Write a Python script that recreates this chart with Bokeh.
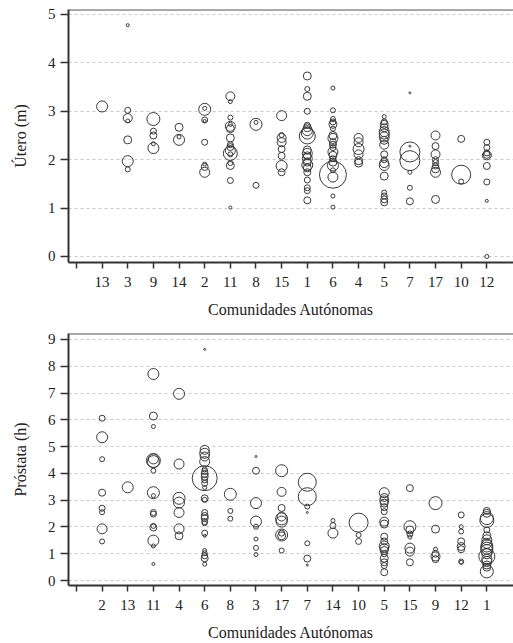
from bokeh.plotting import figure
from bokeh.models import FixedTicker, Span, ColumnDataSource
from bokeh.layouts import column
from bokeh.embed import file_html
from bokeh.resources import INLINE
import math

# ---------------- Data ----------------
orden_utero = ['13', '3', '9', '14', '2', '11', '8', '15', '1', '6', '4', '5', '7', '17', '10', '12']
orden_prostata = ['2', '13', '11', '4', '6', '8', '3', '17', '7', '14', '10', '5', '15', '9', '12', '1']

ccaa_utero = (['13'] + ['3'] * 7 + ['9'] * 5 + ['14'] * 3 + ['2'] * 8 + ['11'] * 16 + ['8'] * 3 + ['15'] * 8
              + ['1'] * 21 + ['6'] * 21 + ['4'] * 6 + ['5'] * 18 + ['7'] * 7 + ['17'] * 9 + ['10'] * 3 + ['12'] * 9)
utero = [3.10,
         4.78, 3.02, 2.86, 2.80, 2.41, 1.97, 1.80,
         2.84, 2.59, 2.50, 2.33, 2.24,
         2.67, 2.41, 2.47,
         3.04, 3.06, 2.82, 2.80, 2.36, 1.91, 1.85, 1.74,
         3.31, 3.20, 2.87, 2.73, 2.69, 2.64, 2.45, 2.31, 2.26, 2.19, 2.13, 2.11, 1.93, 1.88, 1.57, 1.01,
         2.73, 2.77, 1.47,
         2.91, 2.51, 2.45, 2.36, 2.22, 2.08, 1.87, 1.74,
         3.73, 3.46, 3.31, 3.00, 2.71, 2.66, 2.60, 2.55, 2.49, 2.20, 2.13, 2.08, 2.02, 1.95, 1.89, 1.83, 1.74, 1.58, 1.42, 1.36, 1.16,
         3.48, 3.02, 2.84, 2.78, 2.73, 2.64, 2.50, 2.44, 2.36, 2.31, 2.25, 2.16, 2.09, 2.02, 1.95, 1.88, 1.78, 1.69, 1.64, 1.25, 1.02,
         2.45, 2.36, 2.22, 2.11, 1.98, 1.93,
         2.89, 2.78, 2.73, 2.66, 2.58, 2.53, 2.47, 2.40, 2.31, 2.11, 2.00, 1.93, 1.88, 1.66, 1.32, 1.25, 1.18, 1.12,
         3.38, 2.28, 2.16, 1.98, 1.74, 1.42, 1.14,
         2.50, 2.28, 2.11, 2.00, 1.94, 1.87, 1.81, 1.74, 1.18,
         2.43, 1.69, 1.55,
         2.36, 2.25, 2.14, 2.10, 2.09, 1.87, 1.54, 1.15, 0.00]
casos_utero = [121,
               9, 36, 81, 16, 64, 121, 25,
               169, 36, 49, 16, 121,
               64, 121, 16,
               144, 16, 36, 9, 36, 16, 49, 100,
               81, 16, 25, 16, 100, 64, 64, 36, 49, 100, 196, 25, 25, 64, 36, 9,
               144, 16, 36,
               100, 25, 81, 81, 49, 49, 121, 49,
               64, 25, 64, 36, 36, 64, 100, 144, 256, 64, 100, 64, 100, 64, 121, 64, 49, 36, 36, 36, 49,
               16, 25, 25, 36, 64, 25, 64, 100, 49, 49, 36, 100, 64, 36, 64, 121, 25, 729, 100, 16, 16,
               81, 81, 121, 81, 64, 64,
               16, 36, 64, 64, 100, 100, 100, 64, 81, 49, 36, 81, 100, 64, 25, 36, 49, 49,
               4, 4, 400, 400, 16, 25, 49,
               81, 49, 81, 36, 36, 36, 64, 100, 64,
               49, 361, 25,
               36, 36, 36, 49, 81, 49, 36, 9, 16]

ccaa_prostata = (['2'] * 8 + ['13'] + ['11'] * 16 + ['4'] * 7 + ['6'] * 27 + ['8'] * 3 + ['3'] * 8 + ['17'] * 10
                 + ['7'] * 7 + ['14'] * 3 + ['10'] * 3 + ['5'] * 18 + ['15'] * 8 + ['9'] * 6 + ['12'] * 8 + ['1'] * 18)
prostata = [6.06, 5.35, 4.53, 3.28, 2.70, 2.55, 1.93, 1.46,
            3.48,
            7.71, 6.14, 5.75, 4.54, 4.44, 4.48, 4.10, 3.28, 3.17, 2.54, 2.48, 2.04, 1.98, 1.49, 1.29, 0.62,
            6.97, 4.35, 3.07, 2.91, 2.54, 1.93, 1.67,
            8.63, 4.88, 4.75, 4.63, 4.44, 4.15, 4.07, 3.98, 3.88, 3.82, 3.76, 3.63, 3.47, 3.07, 3.01, 2.54, 2.41, 2.33, 2.20, 2.14, 1.77, 1.67, 1.12, 1.02, 0.92, 0.83, 0.61,
            3.22, 2.60, 2.31,
            4.63, 4.10, 2.89, 2.20, 2.01, 1.55, 1.22, 0.97,
            4.10, 3.31, 2.71, 2.39, 2.30, 2.20, 1.77, 1.70, 1.67, 1.12,
            3.67, 3.13, 2.76, 2.54, 1.39, 0.82, 0.58,
            2.24, 2.05, 1.77,
            2.16, 1.70, 1.46,
            3.28, 3.10, 2.99, 2.89, 2.74, 2.57, 2.20, 2.11, 1.64, 1.46, 1.29, 1.21, 1.12, 1.00, 0.83, 0.68, 0.56, 0.31,
            3.45, 2.01, 1.89, 1.74, 1.62, 1.21, 1.08, 0.68,
            2.89, 1.92, 1.17, 1.00, 0.90, 0.80,
            2.45, 2.01, 1.83, 1.46, 1.27, 1.17, 0.71, 0.68,
            2.60, 2.51, 2.33, 2.24, 1.89, 1.67, 1.52, 1.39, 1.29, 1.21, 1.12, 1.00, 0.90, 0.80, 0.71, 0.58, 0.50, 0.34]
casos_prostata = [36, 121, 25, 49, 36, 25, 100, 25,
                  121,
                  121, 64, 16, 100, 144, 196, 25, 144, 16, 36, 36, 25, 49, 121, 16, 9,
                  121, 100, 144, 121, 100, 100, 64,
                  4, 81, 100, 81, 100, 25, 36, 49, 49, 625, 36, 36, 16, 49, 25, 36, 49, 49, 36, 25, 36, 9, 16, 25, 36, 49, 16,
                  144, 25, 25,
                  4, 49, 121, 121, 25, 16, 25, 16,
                  144, 81, 49, 81, 144, 121, 36, 144, 64, 25,
                  324, 324, 25, 4, 25, 49, 4,
                  16, 36, 100,
                  361, 25, 36,
                  100, 64, 81, 64, 49, 36, 81, 64, 49, 49, 100, 81, 64, 36, 64, 49, 36, 49,
                  49, 144, 64, 36, 16, 100, 81, 49,
                  169, 64, 16, 49, 81, 49,
                  36, 16, 25, 49, 64, 49, 25, 16,
                  49, 64, 169, 196, 36, 64, 100, 100, 144, 144, 144, 100, 256, 100, 100, 64, 64, 169]

FONT = "Liberation Serif"
INK = "#333333"


def panel(orden, ccaa, vals, casos, ylabel, ymax, y_rng, height, btop, bbottom, label_standoff):
    pos = [orden.index(c) + 1 for c in ccaa]
    src = ColumnDataSource(dict(x=pos, y=vals, s=[math.sqrt(c) for c in casos]))
    p = figure(width=513, height=height, x_range=(-0.31, 17.04), y_range=y_rng,
               output_backend="svg", toolbar_location=None,
               min_border_left=68, min_border_right=0, min_border_top=btop, min_border_bottom=bbottom)
    p.outline_line_color = None
    p.background_fill_color = "white"
    p.border_fill_color = "white"
    p.scatter("x", "y", size="s", source=src, marker="circle", fill_color=None,
              line_color="#3a3a3a", line_width=1)

    p.xgrid.grid_line_color = None
    p.ygrid.grid_line_color = "#c8c8c8"
    p.ygrid.grid_line_dash = "3 3"
    p.ygrid.ticker = FixedTicker(ticks=list(range(0, ymax + 1)))

    p.xaxis.ticker = FixedTicker(ticks=list(range(0, len(orden) + 1)))
    p.xaxis.major_label_overrides = {0: ""} | {i + 1: c for i, c in enumerate(orden)}
    p.yaxis.ticker = FixedTicker(ticks=list(range(0, ymax + 1)))
    p.xaxis.axis_label = "Comunidades Autónomas"
    p.yaxis.axis_label = ylabel
    for ax in (p.xaxis[0], p.yaxis[0]):
        ax.axis_line_color = INK
        ax.axis_line_width = 2
        ax.major_tick_line_color = INK
        ax.major_tick_line_width = 1.5
        ax.major_tick_in = 0
        ax.minor_tick_line_color = None
        ax.major_label_text_font = FONT
        ax.major_label_text_font_size = "15px"
        ax.major_label_text_color = "#222222"
        ax.axis_label_text_font = FONT
        ax.axis_label_text_font_size = "16px"
        ax.axis_label_text_font_style = "normal"
        ax.axis_label_text_color = "#222222"
    p.xaxis.major_tick_out = 6
    p.xaxis.major_label_standoff = 8
    p.xaxis.axis_label_standoff = label_standoff
    p.yaxis.major_tick_out = 8
    p.yaxis.major_label_standoff = 5
    p.yaxis.axis_label_standoff = 16
    p.add_layout(Span(location=y_rng[1], dimension="width", line_color="#555555", line_width=2))
    return p


p1 = panel(orden_utero, ccaa_utero, utero, casos_utero, "Útero (m)", 5, (-0.124, 5.103), 322, 9, 60, 11)
p2 = panel(orden_prostata, ccaa_prostata, prostata, casos_prostata, "Próstata (h)", 9, (-0.185, 9.222), 321, 11, 56, 11)

layout = column(p1, p2, spacing=0)
open("out.html", "w").write(file_html(layout, INLINE))
